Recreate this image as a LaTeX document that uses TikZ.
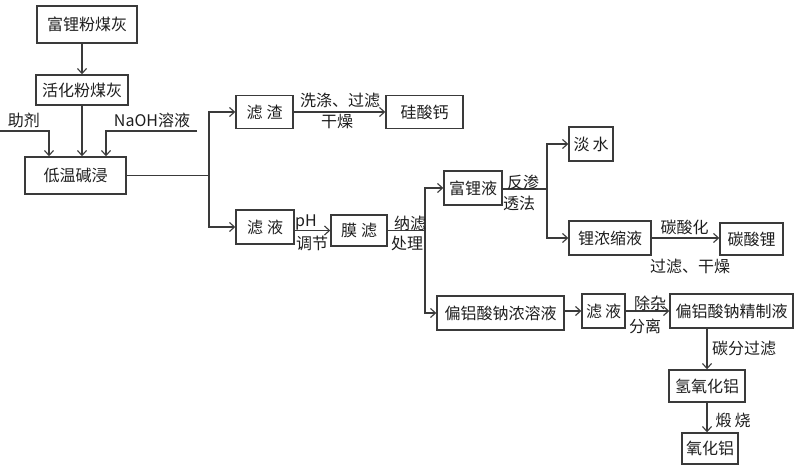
\documentclass[tikz,border=0pt]{standalone}
\usepackage{fontspec}
\setmainfont{Noto Sans CJK SC}
\usetikzlibrary{arrows.meta}
\definecolor{ln}{HTML}{3A3A3A}
\definecolor{tx}{HTML}{1E1E1E}
\tikzset{
  box/.style={draw=ln, line width=1.4pt, inner sep=0pt, text=tx, font=\fontsize{16}{18}\selectfont},
  lbl/.style={inner sep=0pt, text=tx, font=\fontsize{16}{18}\selectfont},
  con/.style={draw=ln, line width=1.3pt},
  arr/.style={con, -{Straight Barb[length=5pt,width=9pt,line width=1.1pt]}}
}
\begin{document}
\begin{tikzpicture}[x=1pt,y=-1pt]
\useasboundingbox[fill=white] (0,0) rectangle (800,470);
% boxes
\node[box, minimum width=100, minimum height=37] (a) at (87,24.5) {富锂粉煤灰};
\node[box, minimum width=92, minimum height=30] (b) at (82,90) {活化粉煤灰};
\node[box, minimum width=101, minimum height=37] (c) at (75.5,175.5) {低温碱浸};
\node[box, minimum width=57, minimum height=33] (d) at (264.5,112) {滤\hspace{4pt}渣};
\node[box, minimum width=77, minimum height=33] (e) at (424.5,112) {硅酸钙};
\node[box, minimum width=58, minimum height=34] (f) at (265,227) {滤\hspace{4pt}液};
\node[box, minimum width=56, minimum height=31] (g) at (359,230.5) {膜\hspace{4pt}滤};
\node[box, minimum width=58, minimum height=34] (h) at (473,188) {富锂液};
\node[box, minimum width=44, minimum height=34] (i) at (591,144) {淡\hspace{3pt}水};
\node[box, minimum width=82, minimum height=34] (j) at (610,238) {锂浓缩液};
\node[box, minimum width=63, minimum height=32] (k) at (751.5,239) {碳酸锂};
\node[box, minimum width=127, minimum height=34] (l) at (500.5,313) {偏铝酸钠浓溶液};
\node[box, minimum width=43, minimum height=34] (m) at (603.5,311) {滤\hspace{3pt}液};
\node[box, minimum width=123, minimum height=34] (n) at (731.5,311) {偏铝酸钠精制液};
\node[box, minimum width=76, minimum height=32] (o) at (707,386) {氢氧化铝};
\node[box, minimum width=56, minimum height=31] (p) at (710,448.5) {氧化铝};
% coordinates
\coordinate (zjs) at (0,131);
\coordinate (zjc) at (49,131);
\coordinate (nas) at (197,131);
\coordinate (nac) at (106,131);
\coordinate (j1) at (209,175.5);
\coordinate (j2) at (425,230.5);
\coordinate (j3) at (547,189);
% connectors
\draw[arr] (a.south -| b.north) -- (b.north);
\draw[arr] (b.south) -- (b.south |- c.north);
\draw[arr] (zjs) -- (zjc) -- (zjc |- c.north);
\draw[arr] (nas) -- (nac) -- (nac |- c.north);
\draw[con] (c.east) -- (j1);
\draw[arr] (j1) |- (d.west);
\draw[arr] (j1) |- (f.west);
\draw[arr] (d.east) -- (e.west);
\draw[arr] (f.east |- g.west) -- (g.west);
\draw[con] (g.east) -- (j2);
\draw[arr] (j2) |- (h.west);
\draw[arr] (j2) |- (l.west);
\draw[con] (h.east |- j3) -- (j3);
\draw[arr] (j3) |- (i.west);
\draw[arr] (j3) |- (j.west);
\draw[arr] (j.east) -- (j.east -| k.west);
\draw[arr] (l.east |- m.west) -- (m.west);
\draw[arr] (m.east) -- (n.west);
\draw[arr] (n.south -| o.north) -- (o.north);
\draw[arr] (o.south) -- (o.south |- p.north);
% labels
\node[lbl] (t1) at (24,120) {助剂};
\node[lbl] (t2) at (152,120) {NaOH溶液};
\node[lbl] (t3) at (340,100) {洗涤、过滤};
\node[lbl] (t4) at (337,122) {干燥};
\node[lbl] (t5) at (306,222) {pH};
\node[lbl] (t6) at (312,243) {调节};
\node[lbl] (t7) at (410,223) {纳滤};
\node[lbl] (t8) at (407,243) {处理};
\node[lbl] (t9) at (523,182) {反渗};
\node[lbl] (t10) at (519,203) {透法};
\node[lbl] (t11) at (684.5,227) {碳酸化};
\node[lbl] (t12) at (690,266) {过滤、干燥};
\node[lbl] (t13) at (650,303) {除杂};
\node[lbl] (t14) at (645,326) {分离};
\node[lbl] (t15) at (744,348) {碳分过滤};
\node[lbl] (t16) at (733,420) {煅\hspace{3pt}烧};
\end{tikzpicture}
\end{document}
